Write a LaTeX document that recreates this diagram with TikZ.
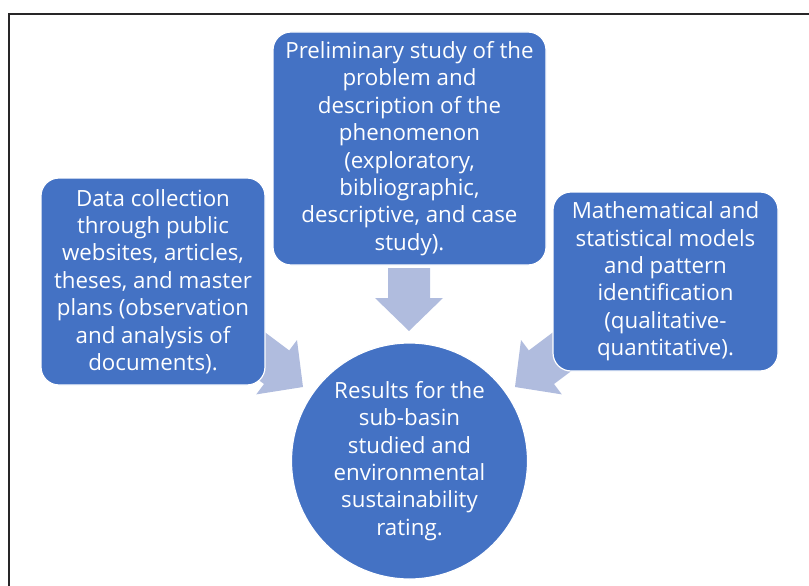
\documentclass[tikz,border=0pt]{standalone}
\usepackage{fontspec}
\setmainfont{Open Sans}
\definecolor{boxblue}{RGB}{68,114,196}
\definecolor{arrowblue}{RGB}{176,188,222}
\definecolor{framegray}{RGB}{40,38,40}
\tikzset{
  box/.style={fill=boxblue, draw=white, line width=1.2pt, rounded corners=18pt,
    text=white, align=center, inner sep=0pt,
    font=\fontsize{22.3}{27.4}\selectfont},
  result/.style={circle, fill=boxblue, draw=white, line width=1.2pt,
    text=white, align=center, inner sep=0pt, minimum size=236pt,
    font=\fontsize{22.3}{27.4}\selectfont},
  % broad block arrow, tip at the origin, pointing along +x
  blockarrow/.pic={
    \fill[arrowblue] (-63,-21) -- (-33,-21) -- (-33,-34) -- (0,0)
      -- (-33,34) -- (-33,21) -- (-63,21) -- cycle;
  }
}
\begin{document}
\begin{tikzpicture}[x=1pt,y=-1pt]
\useasboundingbox (0,0) rectangle (809,586);

% outer frame (continues past the page on the right and bottom)
\draw[framegray, line width=2.2pt] (9,620) -- (9,14) -- (840,14);

% arrow tips
\coordinate (tipTop) at (409,331);
\coordinate (tipLeft) at (303,387);
\coordinate (tipRight) at (515,387);

\pic[rotate=-90] at (tipTop) {blockarrow};
\pic[rotate=-36.87] at (tipLeft) {blockarrow};
\pic[rotate=-143.13] at (tipRight) {blockarrow};

\node[box, minimum width=273pt, minimum height=233pt] (prelim) at (409.5,148.5)
  {Preliminary study of the\\ problem and\\ description of the\\ phenomenon\\
   (exploratory,\\ bibliographic,\\ descriptive, and case\\ study).};

\node[box, minimum width=224pt, minimum height=207pt] (data) at (153,281.5)
  {Data collection\\ through public\\ websites, articles,\\ theses, and master\\
   plans (observation\\ and analysis of\\ documents).};

\node[box, minimum width=225pt, minimum height=179pt] (models) at (665.5,281.5)
  {Mathematical and\\ statistical models\\ and pattern\\ identification\\
   (qualitative-\\ quantitative).};

\node[result] (results) at (409.5,461)
  {Results for the\\ sub-basin\\ studied and\\ environmental\\ sustainability\\ rating.};
\end{tikzpicture}
\end{document}
